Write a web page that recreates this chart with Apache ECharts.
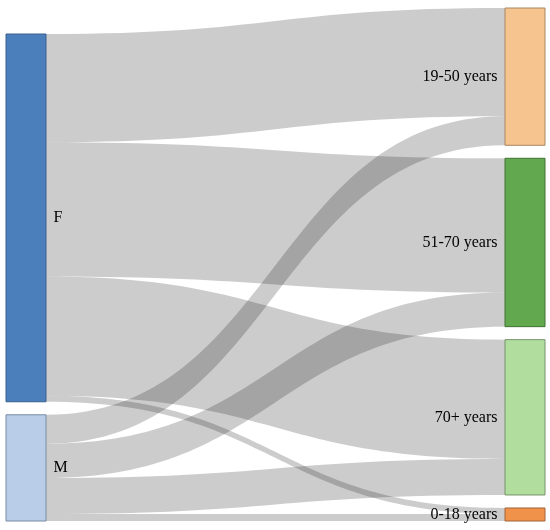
<!DOCTYPE html>
<html>
<head>
<meta charset="utf-8">
<title>Sankey</title>
<script src="https://cdn.jsdelivr.net/npm/echarts@6/dist/echarts.min.js"></script>
<style>
  html, body { margin: 0; padding: 0; background: #fff; }
  #main { width: 550px; height: 530px; }
</style>
</head>
<body>
<div id="main"></div>
<script type="text/javascript">
// nodes: sexes on the left, age groups on the right
var sexes = ['F', 'M'];
var ageGroups = ['19-50 years', '51-70 years', '70+ years', '0-18 years'];
// flow values, one row per sex, in ageGroups order
var fromF = [108, 134, 119, 6];
var fromM = [29, 34, 36, 7];
// empty placeholder nodes that push the left column down (one node gap each)
var leftPads = ['_pad1', '_pad2'];

var nodeColors = {
  'F': ['#4a7fbb', '#3a618d'],
  'M': ['#b9cde9', '#7a8aa3'],
  '19-50 years': ['#f6c48e', '#a88660'],
  '51-70 years': ['#61a84f', '#3f7333'],
  '70+ years': ['#b1de9e', '#75946a'],
  '0-18 years': ['#f0924a', '#a3643a']
};

var myChart = echarts.init(document.getElementById('main'));

var nodes = [];
leftPads.forEach(function (n) {
  nodes.push({
    name: n,
    depth: 0,
    itemStyle: { opacity: 0, borderWidth: 0 },
    label: { show: false }
  });
});
sexes.forEach(function (n) {
  nodes.push({
    name: n,
    depth: 0,
    itemStyle: { color: nodeColors[n][0], borderColor: nodeColors[n][1], borderWidth: 1 },
    label: { position: 'right' }
  });
});
ageGroups.forEach(function (n) {
  nodes.push({
    name: n,
    depth: 1,
    itemStyle: { color: nodeColors[n][0], borderColor: nodeColors[n][1], borderWidth: 1 },
    label: { position: 'left' }
  });
});

var links = [];
var rows = [fromF, fromM];
for (var i = 0; i < sexes.length; i++) {
  for (var j = 0; j < ageGroups.length; j++) {
    links.push({ source: sexes[i], target: ageGroups[j], value: rows[i][j] });
  }
}

var option = {
  animation: false,
  tooltip: { show: false },
  series: [{
    type: 'sankey',
    left: 6,
    top: 8,
    right: 5,
    bottom: 9,
    nodeWidth: 40,
    nodeGap: 13,
    nodeAlign: 'left',
    layoutIterations: 0,
    draggable: false,
    emphasis: { disabled: true },
    label: {
      color: '#000',
      fontFamily: 'Liberation Serif',
      fontSize: 16,
      distance: 7
    },
    lineStyle: {
      color: '#000',
      opacity: 0.2,
      curveness: 0.5
    },
    data: nodes,
    links: links
  }]
};
myChart.setOption(option);
</script>
</body>
</html>
